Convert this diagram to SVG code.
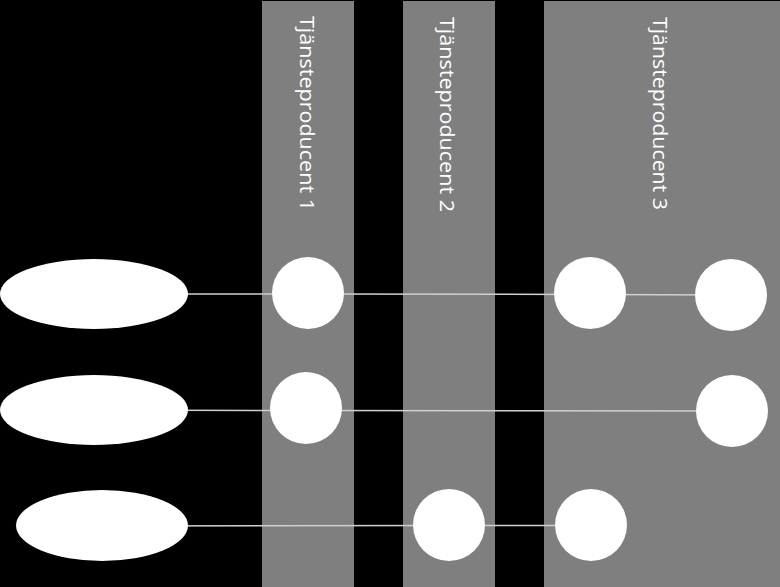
<svg xmlns="http://www.w3.org/2000/svg" width="780" height="587" viewBox="0 0 780 587">
<style>
.lane{fill:#7f7f7f}
.lbl{font-family:"Open Sans","Liberation Sans",sans-serif;font-size:20px;fill:#ffffff}
.node{fill:#ffffff}
.conn{stroke:#d0d0d0;stroke-width:1.5;fill:none}
</style>
<rect width="780" height="587" fill="#000000"/>
<g id="lane1"><rect class="lane" x="262" y="1" width="92" height="586"/><text class="lbl" transform="translate(300,16) rotate(90)" textLength="195" lengthAdjust="spacingAndGlyphs">Tjänsteproducent 1</text></g>
<g id="lane2"><rect class="lane" x="403" y="1" width="92" height="586"/><text class="lbl" transform="translate(440,17) rotate(90)" textLength="195" lengthAdjust="spacingAndGlyphs">Tjänsteproducent 2</text></g>
<g id="lane3"><rect class="lane" x="544" y="1" width="236" height="586"/><text class="lbl" transform="translate(653,17) rotate(90)" textLength="193" lengthAdjust="spacingAndGlyphs">Tjänsteproducent 3</text></g>
<g id="connectors">
<polyline class="conn" points="94,294 308,294 590,294.5 731,295"/>
<polyline class="conn" points="94,410 306,410.5 732,411"/>
<polyline class="conn" points="102,526 449,525.5 591,525.5"/>
</g>
<g id="e1"><ellipse class="node" cx="94" cy="294" rx="94" ry="35"/></g>
<g id="e2"><ellipse class="node" cx="94" cy="410" rx="94" ry="35"/></g>
<g id="e3"><ellipse class="node" cx="102" cy="525.5" rx="86" ry="35.5"/></g>
<g id="c1"><circle class="node" cx="308" cy="293" r="36"/></g>
<g id="c2"><circle class="node" cx="590" cy="293" r="36"/></g>
<g id="c3"><circle class="node" cx="731" cy="295" r="36"/></g>
<g id="c4"><circle class="node" cx="306" cy="408" r="36"/></g>
<g id="c5"><circle class="node" cx="732" cy="411" r="36"/></g>
<g id="c6"><circle class="node" cx="449" cy="525" r="36"/></g>
<g id="c7"><circle class="node" cx="591" cy="525" r="36"/></g>
</svg>
